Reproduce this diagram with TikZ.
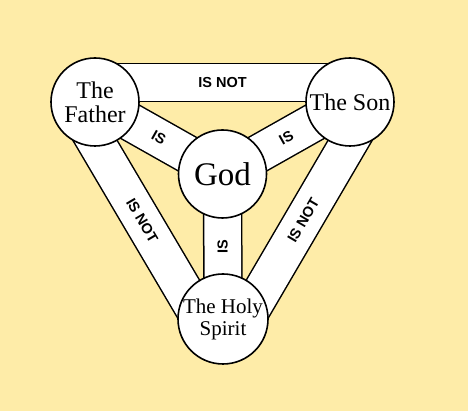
\documentclass[tikz,border=0pt]{standalone}
\usepackage{fontspec}
\setmainfont{Liberation Serif}
\newfontfamily\bandfont{Liberation Sans}
\usepackage{tikz}
\usetikzlibrary{calc}
\definecolor{paper}{RGB}{254,236,168}
\pgfdeclarelayer{ground}
\pgfdeclarelayer{bands}
\pgfsetlayers{ground,bands,main}

\begin{document}
\begin{tikzpicture}[x=1pt, y=1pt,
    circ/.style={circle, draw, line width=1.6pt, fill=white, minimum size=88pt, inner sep=0pt, align=center},
    band/.style={line width=1.5pt, double=white, double distance=36.5pt},
    word/.style={font=\bandfont\fontsize{14.5}{14.5}\selectfont\bfseries, inner sep=0pt}]
    % Paper
    \useasboundingbox (0,0) rectangle (468,411);
    \begin{pgfonlayer}{ground}
        \fill[paper] (0,0) rectangle (468,411);
    \end{pgfonlayer}

    % The four circles
    \node[circ, font=\fontsize{24}{24}\selectfont] (father) at (95,309) {The\\Father};
    \node[circ, font=\fontsize{24}{24}\selectfont] (son) at (350,309) {The Son};
    \node[circ, font=\fontsize{33}{33}\selectfont] (god) at (222.5,237) {God};
    \node[circ, minimum size=90pt, font=\fontsize{21}{22}\selectfont] (spirit) at (223,92) {The Holy\\Spirit};

    % Outer bands
    \begin{pgfonlayer}{bands}
    \draw[band] ($(father.center)!19.5pt!90:(son.center)$) -- ($(son.center)!19.5pt!-90:(father.center)$)
        node[midway, word] {IS NOT};
    \draw[band] ($(father.center)!19.5pt!-90:(spirit.center)$) -- ($(spirit.center)!19.5pt!90:(father.center)$)
        node[midway, sloped, word] {IS NOT};
    \draw[band] ($(spirit.center)!19.5pt!-90:(son.center)$) -- ($(son.center)!19.5pt!90:(spirit.center)$)
        node[midway, sloped, word] {IS NOT};

    % Inner bands
    \draw[band] (father.center) -- (god.center) node[midway, sloped, word] {IS};
    \draw[band] (god.center) -- (son.center) node[midway, sloped, word] {IS};
    \draw[band] (spirit.center) -- (god.center) node[midway, rotate=90, word] {IS};
    \end{pgfonlayer}
\end{tikzpicture}
\end{document}
